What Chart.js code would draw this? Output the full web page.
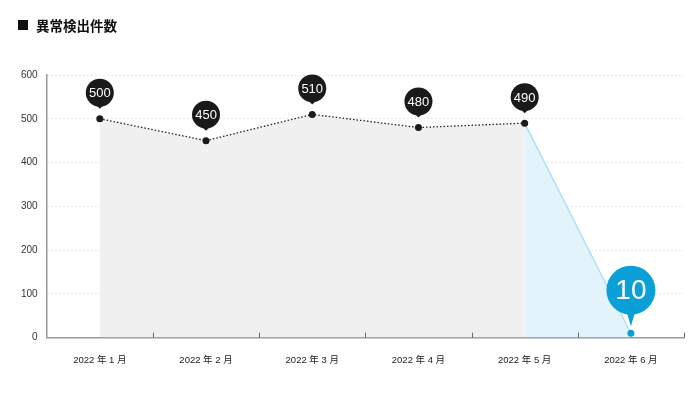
<!DOCTYPE html>
<html lang="ja">
<head>
<meta charset="UTF-8">
<title>異常検出件数</title>
<script src="https://cdn.jsdelivr.net/npm/chart.js"></script>
<style>
    *{ margin:0; padding:0; }
    body, html{ width:700px; height:394px; background:#fff; overflow:hidden; }
    #wrap{ position:relative; width:700px; height:394px; }
    #title{
        position:absolute; left:18px; top:15px;
        font-family:"Noto Sans CJK JP", sans-serif;
        font-weight:bold; font-size:13.5px; color:#111;
        display:flex; align-items:center;
    }
    #title span{ display:inline-block; width:10px; height:10px; background:#111; margin-right:8px; }
</style>
</head>
<body>
<div id="wrap">
    <div id="title"><span></span>異常検出件数</div>
    <canvas id="chart" width="700" height="394"></canvas>
</div>
<script>
    const months = ["2022 年 1 月", "2022 年 2 月", "2022 年 3 月", "2022 年 4 月", "2022 年 5 月", "2022 年 6 月"]
    const counts = [500, 450, 510, 480, 490, 10]
    const yTicks = [0, 100, 200, 300, 400, 500, 600]

    const lastIdx = counts.length - 1

    // small upward tick marks between months, drawn over the fill
    const monthTicks = {
        id: "monthTicks",
        afterDatasetsDraw(chart){
            const ctx = chart.ctx
            const xs = chart.scales.x
            const y0 = chart.chartArea.bottom
            ctx.save()
            ctx.strokeStyle = "#666"
            ctx.lineWidth = 1
            for (let i = 0; i < months.length; i++){
                const x = i < lastIdx
                    ? (xs.getPixelForTick(i) + xs.getPixelForTick(i + 1)) / 2
                    : chart.chartArea.right
                const px = Math.round(x) + 0.5
                ctx.beginPath()
                ctx.moveTo(px, y0)
                ctx.lineTo(px, y0 - 5)
                ctx.stroke()
            }
            ctx.restore()
        }
    }

    // balloon labels above each point
    const balloons = {
        id: "balloons",
        afterDatasetsDraw(chart){
            const ctx = chart.ctx
            const pts = chart.getDatasetMeta(0).data
            pts.forEach((p, i)=>{
                const big = i === lastIdx
                const r = big ? 24.5 : 14
                const cy = p.y - (big ? 43 : 26)
                const tip = p.y - (big ? 7 : 10)
                ctx.save()
                ctx.fillStyle = big ? "#0a9fd6" : "#1a1a1a"
                ctx.beginPath()
                ctx.arc(p.x, cy, r, 0, Math.PI * 2)
                ctx.fill()
                ctx.beginPath()
                ctx.moveTo(p.x - 4, cy + r - 2)
                ctx.lineTo(p.x + 4, cy + r - 2)
                ctx.lineTo(p.x, tip)
                ctx.closePath()
                ctx.fill()
                ctx.fillStyle = "#fff"
                ctx.font = (big ? "28px" : "13px") + " 'Liberation Sans', Arial, sans-serif"
                ctx.textAlign = "center"
                ctx.textBaseline = "middle"
                ctx.fillText(String(counts[i]), p.x, cy + 1)
                ctx.restore()
            })
        }
    }

    new Chart(document.getElementById("chart"), {
        type: "line",
        data: {
            labels: months,
            datasets: [{
                data: counts,
                fill: "origin",
                backgroundColor: "#f0f0f0",
                borderColor: "#222",
                borderWidth: 1.3,
                borderDash: [1.5, 2],
                tension: 0,
                pointRadius: 3.5,
                pointHoverRadius: 3.5,
                pointBorderWidth: 0,
                pointBackgroundColor: counts.map((v, i)=> i === lastIdx ? "#0a9fd6" : "#1a1a1a"),
                segment: {
                    borderColor: c => c.p1DataIndex === lastIdx ? "#a9dcf1" : "#222",
                    borderDash: c => c.p1DataIndex === lastIdx ? [] : [1.5, 2],
                    backgroundColor: c => c.p1DataIndex === lastIdx ? "#e2f3fb" : "#f0f0f0"
                }
            }]
        },
        options: {
            responsive: false,
            animation: false,
            layout: { padding: { left: 12, right: 16, top: 75, bottom: 19 } },
            plugins: {
                legend: { display: false },
                tooltip: { enabled: false }
            },
            scales: {
                x: {
                    offset: true,
                    grid: { display: false },
                    border: { display: true, color: "#999", width: 1.5 },
                    ticks: {
                        color: "#222",
                        padding: 9,
                        font: { family: "'Liberation Sans', 'Noto Sans CJK JP', sans-serif", size: 9.5 }
                    }
                },
                y: {
                    min: 0,
                    max: 600,
                    afterBuildTicks: axis => { axis.ticks = yTicks.map(v => ({ value: v })) },
                    grid: {
                        drawTicks: false,
                        color: "#d0d0d0",
                        lineWidth: 1
                    },
                    // border.dash styles the grid lines (dotted)
                    border: { display: true, color: "#999", width: 1.5, dash: [1, 3] },
                    ticks: {
                        color: "#333",
                        padding: 9,
                        font: { family: "'Liberation Sans', Arial, sans-serif", size: 10 }
                    }
                }
            }
        },
        plugins: [monthTicks, balloons]
    })
</script>
</body>
</html>
